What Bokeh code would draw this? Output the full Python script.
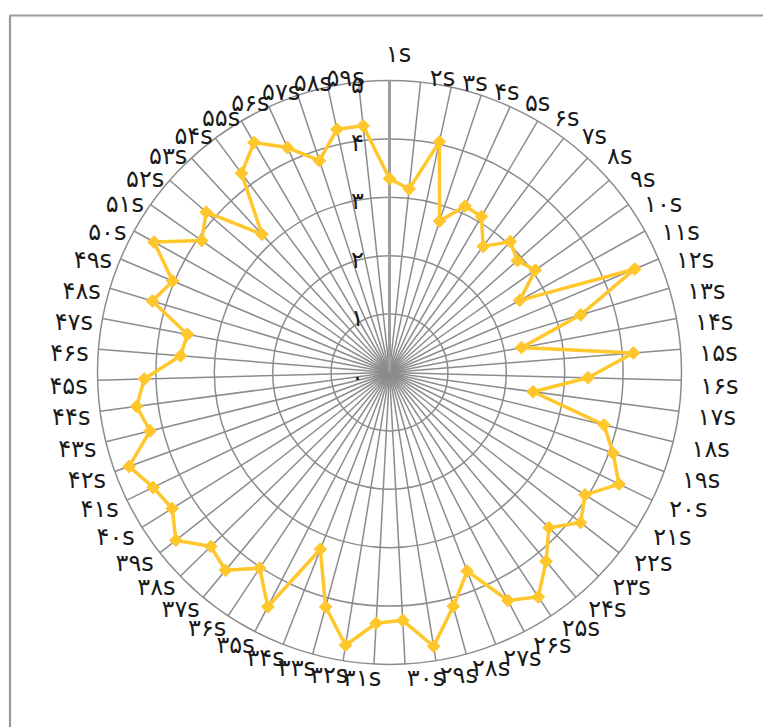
import numpy as np
from bokeh.plotting import figure
from bokeh.models import ColumnDataSource, Range1d
from bokeh.embed import file_html
from bokeh.resources import INLINE
from bokeh.core.properties import value

# ---------------- data ----------------
categories = ["۱s", "۲s", "۳s", "۴s", "۵s", "۶s", "۷s", "۸s", "۹s", "۱۰s",
              "۱۱s", "۱۲s", "۱۳s", "۱۴s", "۱۵s", "۱۶s", "۱۷s", "۱۸s", "۱۹s", "۲۰s",
              "۲۱s", "۲۲s", "۲۳s", "۲۴s", "۲۵s", "۲۶s", "۲۷s", "۲۸s", "۲۹s", "۳۰s",
              "۳۱s", "۳۲s", "۳۳s", "۳۴s", "۳۵s", "۳۶s", "۳۷s", "۳۸s", "۳۹s", "۴۰s",
              "۴۱s", "۴۲s", "۴۳s", "۴۴s", "۴۵s", "۴۶s", "۴۷s", "۴۸s", "۴۹s", "۵۰s",
              "۵۱s", "۵۲s", "۵۳s", "۵۴s", "۵۵s", "۵۶s", "۵۷s", "۵۸s", "۵۹s"]
scores = [3.32, 3.16, 4.04, 2.73, 3.13, 3.10, 2.69, 3.05, 2.91, 3.05,
          2.55, 4.56, 3.42, 2.30, 4.19, 3.40, 2.48, 3.78, 4.07, 4.37,
          3.95, 4.16, 3.81, 4.20, 4.61, 4.40, 3.65, 4.15, 4.75, 4.25,
          4.30, 4.73, 4.16, 3.25, 4.52, 4.02, 4.40, 4.27, 4.65, 4.39,
          4.50, 4.74, 4.22, 4.37, 4.20, 3.59, 3.52, 4.24, 4.03, 4.61,
          3.93, 4.17, 3.22, 4.25, 4.57, 4.23, 3.82, 4.26, 4.25]
ticks = [0, 1, 2, 3, 4, 5]
tick_labels = ["۰", "۱", "۲", "۳", "۴", "۵"]

# ---------------- layout ----------------
W, H = 763, 727
CX, CY = 389, 372      # chart centre in figure pixels
U = 58.4               # pixels per value unit
RMAX = 5

FONT = value("DejaVu Sans")
GOLD = "#FFC72C"
GRID = "#8c8c8c"

p = figure(width=W, height=H, output_backend="svg", toolbar_location=None,
           x_range=Range1d(-CX / U, (W - CX) / U),
           y_range=Range1d(-(H - CY) / U, CY / U),
           x_axis_location=None, y_axis_location=None,
           min_border=0, outline_line_color=None)
p.grid.visible = False
p.background_fill_color = "white"
p.border_fill_color = "white"

n = len(categories)
theta = np.arange(n) * 2 * np.pi / n
s, c = np.sin(theta), np.cos(theta)

# frame border (left and top only visible)
bx = (9.5 - CX) / U
by = (CY - 15) / U
p.line([bx, bx, (W - CX) / U + 1], [-(H - CY) / U - 1, by, by],
       line_color="#9a9a9a", line_width=2.2)

# rings
rings = ticks[1:]
p.circle(x=[0] * len(rings), y=[0] * len(rings), radius=rings,
         fill_color=None, line_color=GRID, line_width=1.5)

# spokes
p.segment(x0=np.zeros(n - 1), y0=np.zeros(n - 1),
          x1=RMAX * s[1:], y1=RMAX * c[1:], line_color=GRID, line_width=1.5)
p.segment(x0=[0], y0=[0], x1=[RMAX * s[0]], y1=[RMAX * c[0]],
          line_color="#9e9e9e", line_width=3)

# data series
v = np.array(scores)
xs = v * s
ys = v * c
p.line(np.append(xs, xs[0]), np.append(ys, ys[0]), line_color=GOLD, line_width=3.5)
p.scatter(xs, ys, marker="square", angle=np.pi / 4, size=9,
          fill_color=GOLD, line_color=GOLD)

# category labels
lx = 310 / U * s
ly = 301 / U * c
xo = np.where(s > 1e-9, 20.0, -11.0)
yo = np.full(n, 5.0)
xo[0] = 9.0
yo[0] = 0.0
ly[0] = 319 / U
src = ColumnDataSource(dict(x=lx, y=ly, t=categories, xo=xo, yo=yo))
p.text(x="x", y="y", text="t", x_offset="xo", y_offset="yo", source=src,
       text_align="center", text_baseline="middle", text_font=FONT,
       text_font_size="24px", text_color="#1a1a1a")

# radial tick labels
p.text(x=[0] * len(ticks), y=ticks, text=tick_labels, x_offset=-32, y_offset=4,
       text_align="center", text_baseline="middle", text_font=FONT,
       text_font_size="24px", text_color="#1a1a1a")

open("out.html", "w").write(file_html(p, INLINE))
